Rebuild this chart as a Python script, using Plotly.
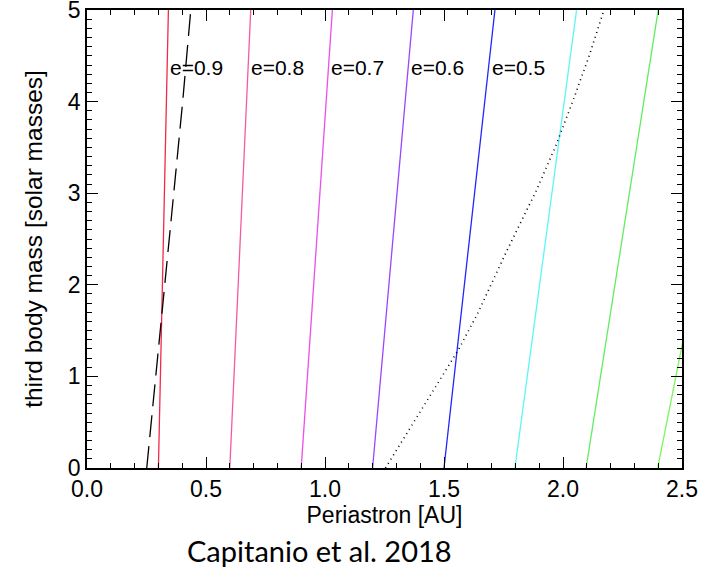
import plotly.graph_objects as go

# Stability boundaries: third-body mass vs periastron for several eccentricities
mass_ends = [0.0, 5.0]
eccentricity_labels = ["e=0.9", "e=0.8", "e=0.7", "e=0.6", "e=0.5", "e=0.4", "e=0.3", "e=0.2"]
periastron_at_m0 = [0.300, 0.600, 0.900, 1.200, 1.500, 1.798, 2.097, 2.398]
periastron_at_m5 = [0.342, 0.688, 1.031, 1.371, 1.714, 2.057, 2.400, 2.780]
line_colors = ["#F2294B", "#F25C9E", "#EC50E8", "#9B45FF", "#2424FF",
               "#5CF6F6", "#62EC62", "#7DF65C"]
labelled = 5  # only the first five curves carry a text label

# Dashed boundary
dashed_periastron = [0.251, 0.275, 0.300, 0.340, 0.372, 0.402, 0.436]
dashed_mass = [0.0, 0.65, 1.30, 2.40, 3.20, 4.00, 5.00]

# Dotted boundary
dotted_periastron = [1.254, 1.400, 1.560, 1.640, 1.760, 1.889, 1.970, 2.043, 2.110, 2.172]
dotted_mass = [0.0, 0.615, 1.288, 1.680, 2.350, 3.035, 3.520, 4.017, 4.500, 5.000]

label_mass = 4.37

fig = go.Figure()

for i, (x0, x1) in enumerate(zip(periastron_at_m0, periastron_at_m5)):
    fig.add_trace(go.Scatter(
        x=[x0, x1], y=mass_ends, mode="lines",
        line=dict(color=line_colors[i], width=1.3),
        showlegend=False, hoverinfo="skip"))

fig.add_trace(go.Scatter(
    x=dashed_periastron, y=dashed_mass, mode="lines",
    line=dict(color="black", width=1.3, dash="22px,9px"),
    showlegend=False, hoverinfo="skip"))

fig.add_trace(go.Scatter(
    x=dotted_periastron, y=dotted_mass, mode="lines",
    line=dict(color="black", width=1.6, dash="1px,4px"),
    showlegend=False, hoverinfo="skip"))

# Eccentricity labels placed just right of each curve
for i in range(labelled):
    x0, x1 = periastron_at_m0[i], periastron_at_m5[i]
    x_on_line = x0 + (x1 - x0) * (label_mass - mass_ends[0]) / (mass_ends[1] - mass_ends[0])
    fig.add_annotation(
        x=x_on_line, y=label_mass, text=eccentricity_labels[i],
        showarrow=False, xanchor="left", yanchor="middle", xshift=1,
        font=dict(family="Liberation Sans, Arial, sans-serif", size=21, color="black"))

fig.add_annotation(
    xref="paper", yref="paper", x=0.39, y=-0.18,
    text="Capitanio et al. 2018", showarrow=False,
    xanchor="center", yanchor="middle",
    font=dict(family="Lato, Noto Sans, sans-serif", size=29, color="black"))

axis_font = dict(family="Liberation Sans, Arial, sans-serif", size=23, color="black")
common = dict(
    showgrid=False, zeroline=False, showline=True, linecolor="black", linewidth=1.5,
    mirror="allticks", ticks="inside", ticklen=11, tickwidth=1.2, tickcolor="black",
    tickfont=axis_font, ticklabeloverflow="allow",
)

fig.update_xaxes(
    range=[0, 2.5], tickmode="array", tickvals=[0, 0.5, 1.0, 1.5, 2.0, 2.5],
    ticktext=["0.0", "0.5", "1.0", "1.5", "2.0", "2.5"],
    title=dict(text="Periastron [AU]", font=axis_font, standoff=2),
    minor=dict(dtick=0.1, ticks="inside", ticklen=5, tickcolor="black", tickwidth=1.2),
    **common)
fig.update_yaxes(
    range=[0, 5.0005], tickmode="array", tickvals=[0, 1, 2, 3, 4, 5],
    ticktext=["0", "1", "2", "3", "4", "5"],
    title=dict(text="third body mass [solar masses]",
               font=dict(family="Liberation Sans, Arial, sans-serif", size=24.5, color="black"),
               standoff=18),
    minor=dict(dtick=0.1, ticks="inside", ticklen=5, tickcolor="black", tickwidth=1.2),
    **common)

fig.update_layout(
    width=721, height=580,
    margin=dict(l=87, r=39, t=10, b=112, autoexpand=False),
    plot_bgcolor="white", paper_bgcolor="white",
)

fig.write_html("out.html")
